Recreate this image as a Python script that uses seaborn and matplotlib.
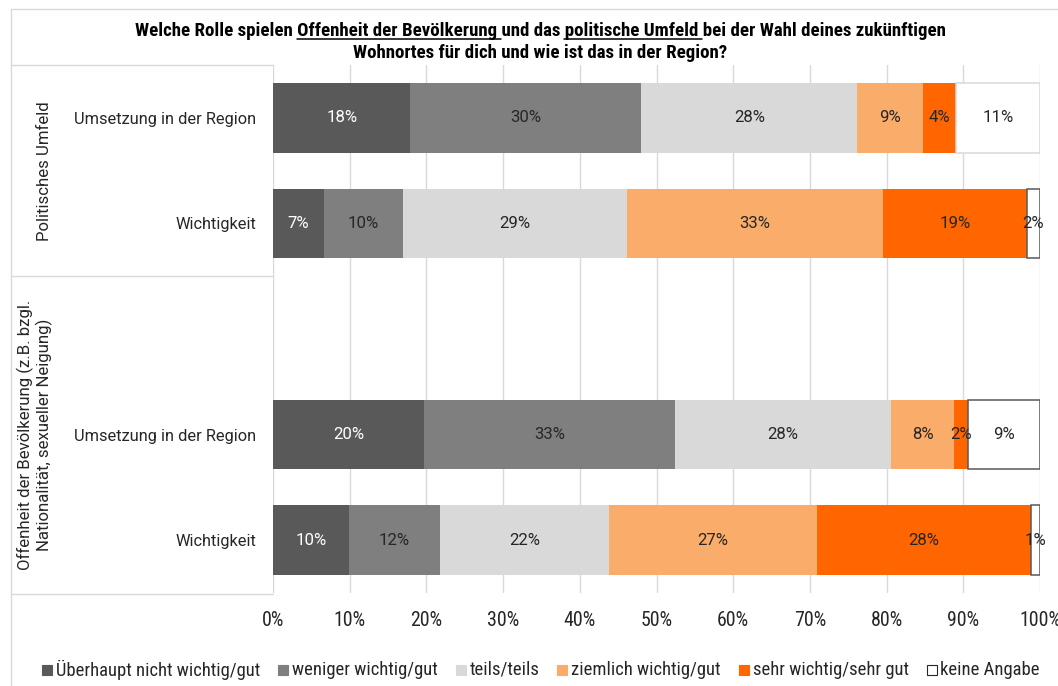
import matplotlib
matplotlib.use("Agg")
import matplotlib.pyplot as plt
from matplotlib import font_manager
from matplotlib.lines import Line2D
from matplotlib.patches import Rectangle
import seaborn as sns
import pandas as pd

# ---------------- data ----------------
row_keys = ["pol_ums", "pol_wich", "gap", "off_ums", "off_wich"]
row_labels = ["Umsetzung in der Region", "Wichtigkeit", "", "Umsetzung in der Region", "Wichtigkeit"]
bar_rows = ["pol_ums", "pol_wich", "off_ums", "off_wich"]
group_labels = ["Politisches Umfeld",
                "Offenheit der Bevölkerung (z.B. bzgl.\nNationalität, sexueller Neigung)"]
series_names = ["Überhaupt nicht wichtig/gut", "weniger wichtig/gut", "teils/teils",
                "ziemlich wichtig/gut", "sehr wichtig/sehr gut", "keine Angabe"]
ueberhaupt = [17.9, 6.6, 19.7, 9.9]
weniger = [30.1, 10.4, 32.7, 11.9]
teils = [28.2, 29.1, 28.2, 22.0]
ziemlich = [8.6, 33.4, 8.2, 27.1]
sehr = [4.2, 18.8, 1.8, 27.9]
keine = [11.0, 1.7, 9.4, 1.2]
series_values = [ueberhaupt, weniger, teils, ziemlich, sehr, keine]
x_ticks = [0, 10, 20, 30, 40, 50, 60, 70, 80, 90, 100]
x_tick_labels = ["0%", "10%", "20%", "30%", "40%", "50%", "60%", "70%", "80%", "90%", "100%"]
title_line1 = ("Welche Rolle spielen Offenheit der Bevölkerung und das politische Umfeld "
               "bei der Wahl deines zukünftigen")
title_line2 = "Wohnortes für dich und wie ist das in der Region?"
underlined = ["Offenheit der Bevölkerung ", "politische Umfeld "]

colors = ["#595959", "#7F7F7F", "#D9D9D9", "#FAAD6A", "#FF6600", "#FFFFFF"]
label_colors = ["#FFFFFF", "#262626", "#262626", "#262626", "#262626", "#262626"]
GRID = "#D9D9D9"

# ---------------- fonts ----------------
sns.set_style("white")
available = {f.name for f in font_manager.fontManager.ttflist}


def pick(*names):
    for n in names:
        if n in available:
            return n
    return "DejaVu Sans"


NARROW = pick("Liberation Sans Narrow", "Roboto Condensed", "Open Sans Condensed", "Roboto")
REG = pick("Roboto", "Inter", "Liberation Sans")
plt.rcParams["font.family"] = [REG, "DejaVu Sans"]

W, H = 1058, 686


def fx(px):
    return px / W


def fy(py):
    return 1 - py / H


fig = plt.figure(figsize=(W / 100, H / 100), dpi=100)
fig.patch.set_facecolor("white")
renderer = fig.canvas.get_renderer()


def text_width(s, **props):
    t = fig.text(0, 0, s, **props)
    w = t.get_window_extent(renderer).width
    t.remove()
    return w


def text_width_sp(s, **props):
    return text_width(s + "l", **props) - text_width("l", **props)


def fit(s, target, **props):
    return 10 * target / text_width(s, fontsize=10, **props)


ax = fig.add_axes([fx(273), fy(593), fx(1040) - fx(273), fy(65) - fy(593)])

# ---------------- stacked bars ----------------
left = [0.0] * len(bar_rows)
for i, (name, vals) in enumerate(zip(series_names, series_values)):
    sub = pd.DataFrame({"row": bar_rows, "value": vals})
    n0 = len(ax.patches)
    sns.barplot(data=sub, x="value", y="row", order=row_keys, orient="y",
                color=colors[i], saturation=1, width=0.66, errorbar=None,
                left=list(left), linewidth=0, ax=ax)
    new = ax.patches[n0:]
    if name == "keine Angabe":
        for p in new:
            idx = int(round(p.get_y() + p.get_height() / 2))
            p.set_linewidth(1.1)
            p.set_edgecolor(GRID if row_keys[idx] == "pol_ums" else "#595959")
    left = [l + v for l, v in zip(left, vals)]

# data labels
bar_fs = fit("18%", 31, family=REG)
left = [0.0] * len(bar_rows)
for i, vals in enumerate(series_values):
    for r, l, v in zip(bar_rows, left, vals):
        ax.text(l + v / 2, row_keys.index(r), f"{v:.0f}%", ha="center", va="center",
                fontsize=bar_fs, color=label_colors[i], family=REG)
    left = [l + v for l, v in zip(left, vals)]

# axes styling
ax.set_xlim(0, 100)
ax.set_ylim(4.5, -0.5)
ax.set_xticks(x_ticks)
ax.set_xticklabels(x_tick_labels)
ax.set_yticks(range(len(row_keys)))
ax.set_yticklabels(row_labels)
ax.set_xlabel("")
ax.set_ylabel("")
for s in ax.spines.values():
    s.set_visible(False)
ax.grid(axis="x", color=GRID, linewidth=1)
ax.grid(axis="y", visible=False)
ax.set_axisbelow(True)

tick_fs = fit("40%", 32, family=NARROW)
cat_fs = fit("Umsetzung in der Region", 182, family=REG)
ax.tick_params(axis="x", length=0, pad=13, labelsize=tick_fs, labelcolor="#262626")
ax.tick_params(axis="y", length=0, pad=12, labelsize=cat_fs, labelcolor="#262626")
for t in ax.get_xticklabels():
    t.set_family(NARROW)
    t.set_clip_on(False)

# ---------------- left table lines & outer border ----------------
def fline(x0, y0, x1, y1, color=GRID, lw=1.0):
    fig.add_artist(Line2D([fx(x0), fx(x1)], [fy(y0), fy(y1)], color=color, lw=lw,
                          transform=fig.transFigure))


fline(11, 9, 1058, 9)       # outer border top
fline(11, 9, 11, 686)       # outer border left
fline(11, 65, 273, 65)
fline(11, 276, 273, 276)
fline(11, 594, 273, 594)

grp_fs = fit(group_labels[0], 140, family=REG)
fig.text(fx(45), fy(171), group_labels[0], rotation=90, ha="center", va="center",
         fontsize=grp_fs, color="#262626", family=REG)
fig.text(fx(35), fy(435), group_labels[1], rotation=90, ha="center", va="center",
         fontsize=grp_fs, color="#262626", family=REG, linespacing=1.1, multialignment="center")

# ---------------- title with underlines ----------------
tprops = dict(family=NARROW, weight="bold")
title_fs = fit(title_line1, 810, **tprops)
tprops["fontsize"] = title_fs
t1 = fig.text(fx(540), fy(36), title_line1, ha="center", va="baseline", color="black", **tprops)
fig.text(fx(540), fy(58), title_line2, ha="center", va="baseline", color="black", **tprops)
bb = t1.get_window_extent(renderer)
for u in underlined:
    idx = title_line1.index(u)
    start = bb.x0 + text_width_sp(title_line1[:idx], **tprops)
    end = start + text_width_sp(u, **tprops)
    yb = fy(38.5) * H
    fig.add_artist(Line2D([start / W, end / W], [yb / H, yb / H], color="black", lw=1.1,
                          transform=fig.transFigure))

# ---------------- legend (single row, spread from x=42 to x=1040) ----------------
leg_fs = fit(series_names[0], 204, family=NARROW)
leg_y = 670
box, pad = 10, 4
widths = [text_width(n, fontsize=leg_fs, family=NARROW) for n in series_names]
total = sum(box + pad + w for w in widths)
gap = (1040 - 42 - total) / (len(series_names) - 1)
x = 42
for c, name, w in zip(colors, series_names, widths):
    ec = "#262626" if c == "#FFFFFF" else c
    fig.add_artist(Rectangle((fx(x), fy(leg_y + 5)), box / W, box / H, facecolor=c,
                             edgecolor=ec, linewidth=0.8, transform=fig.transFigure))
    fig.text(fx(x + box + pad), fy(leg_y), name, ha="left", va="center", fontsize=leg_fs,
             family=NARROW, color="#262626")
    x += box + pad + w + gap

fig.savefig("out.png", dpi=100, facecolor="white")
